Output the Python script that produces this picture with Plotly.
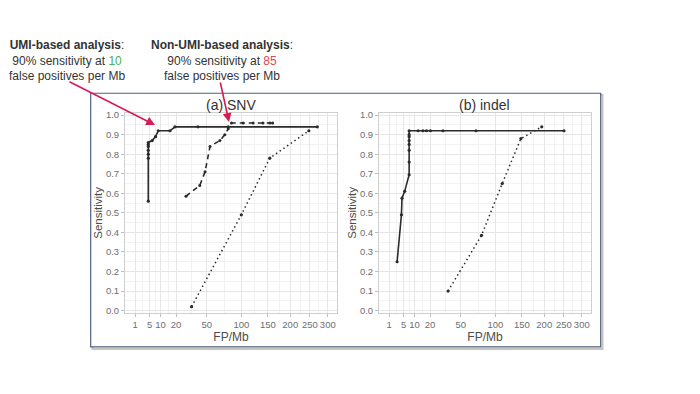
import numpy as np
import plotly.graph_objects as go

# ---------------- data ----------------
tick_vals = [1, 5, 10, 20, 50, 100, 150, 200, 250, 300]
tick_text = [str(v) for v in tick_vals]

snv_umi_fp = [4.5, 4.5, 4.5, 4.5, 4.5, 4.5, 4.5, 6.0, 7.5, 8.8, 15.7, 19.2, 40, 79, 270]
snv_umi_sens = [0.56, 0.78, 0.80, 0.82, 0.84, 0.85, 0.86, 0.87, 0.89, 0.92, 0.92, 0.94, 0.94, 0.94, 0.94]

snv_nonumi_fp = [28.2, 42, 48, 54, 67, 74, 79, 84, 103, 121, 140, 154, 160]
snv_nonumi_sens = [0.585, 0.64, 0.71, 0.84, 0.87, 0.90, 0.93, 0.96, 0.96, 0.96, 0.96, 0.96, 0.96]

snv_raw_fp = [33.5, 100, 154, 247]
snv_raw_sens = [0.02, 0.49, 0.78, 0.92]

indel_umi_fp = [2.83, 4.2, 4.4, 5.4, 7.3, 7.3, 7.3, 7.3, 7.3, 7.3, 7.3, 7.3, 12, 15, 17.4, 20.3, 31, 70, 250]
indel_umi_sens = [0.25, 0.49, 0.575, 0.61, 0.695, 0.76, 0.82, 0.85, 0.87, 0.89, 0.90, 0.92, 0.92, 0.92, 0.92, 0.92, 0.92, 0.92, 0.92]

indel_raw_fp = [36, 78, 112, 148, 194]
indel_raw_sens = [0.10, 0.385, 0.65, 0.88, 0.94]

# ---------------- figure ----------------
W, H = 700, 394
OFF = 8  # default page body margin
FONT = "Arial, Liberation Sans, sans-serif"
LINE = "#2b2b2b"

def px(x):
    return (x - OFF) / W

def py(y):
    return 1 - (y - OFF) / H

fig = go.Figure()

def add(fp, sens, dash, axis, width=1.6, msize=3.2):
    fig.add_trace(go.Scatter(
        x=np.sqrt(fp), y=sens, mode="lines+markers",
        line=dict(color=LINE, width=width, dash=dash),
        marker=dict(size=msize, color=LINE),
        xaxis="x" + axis, yaxis="y" + axis, showlegend=False,
        hoverinfo="skip"))

add(snv_umi_fp, snv_umi_sens, "solid", "")
add(snv_nonumi_fp, snv_nonumi_sens, "5px,4px", "", 1.6, 3.0)
add(snv_raw_fp, snv_raw_sens, "1.5px,3px", "", 1.5)
add(indel_umi_fp, indel_umi_sens, "solid", "2")
add(indel_raw_fp, indel_raw_sens, "1.5px,3px", "2", 1.5)

sq_ticks = np.sqrt(tick_vals)
minor_x = list((sq_ticks[:-1] + sq_ticks[1:]) / 2)

xcommon = dict(
    range=[0.15, 18.1], tickvals=list(sq_ticks), ticktext=tick_text,
    tickangle=0,
    showgrid=True, gridcolor="#e6e6e6", gridwidth=1,
    minor=dict(tickvals=minor_x, showgrid=True, gridcolor="#f2f2f2", gridwidth=0.6),
    showline=True, linecolor="#cfcfcf", linewidth=1, mirror=True,
    ticks="outside", ticklen=3, tickcolor="#bdbdbd",
    tickfont=dict(size=9.5, color="#6e6e6e", family=FONT),
    zeroline=False, fixedrange=True,
    title=dict(text="FP/Mb", font=dict(size=12, color="#4d4d4d", family=FONT), standoff=0),
)
ycommon = dict(
    range=[-0.01, 1.01], tickvals=[i / 10 for i in range(11)],
    ticktext=["%.1f" % (i / 10) for i in range(11)],
    showgrid=True, gridcolor="#e6e6e6", gridwidth=1,
    minor=dict(tickvals=[i / 10 + 0.05 for i in range(10)], showgrid=True, gridcolor="#f2f2f2", gridwidth=0.6),
    showline=True, linecolor="#cfcfcf", linewidth=1, mirror=True,
    ticks="outside", ticklen=3, tickcolor="#bdbdbd",
    tickfont=dict(size=9.5, color="#6e6e6e", family=FONT),
    zeroline=False, fixedrange=True,
    title=dict(text="Sensitivity", font=dict(size=11.5, color="#4d4d4d", family=FONT), standoff=0),
)

ydom = [py(314), py(111)]
fig.update_layout(
    width=W, height=H, margin=dict(l=0, r=0, t=0, b=0),
    paper_bgcolor="white", plot_bgcolor="white",
    font=dict(family=FONT),
    xaxis=dict(domain=[px(125), px(337)], anchor="y", **xcommon),
    yaxis=dict(domain=ydom, anchor="x", **ycommon),
    xaxis2=dict(domain=[px(379), px(591)], anchor="y2", **xcommon),
    yaxis2=dict(domain=ydom, anchor="x2", **ycommon),
)

# slide-like frame with shadow
fig.add_shape(type="rect", xref="paper", yref="paper",
              x0=px(92.5), y0=py(351), x1=px(602.5), y1=py(92.5),
              line=dict(color="#c4c4c4", width=2), layer="below")
fig.add_shape(type="rect", xref="paper", yref="paper",
              x0=px(90.7), y0=py(349), x1=px(600.7), y1=py(90.7),
              line=dict(color="#4f5f7f", width=1.2), fillcolor="white", layer="below")

# panel titles
for cx, txt in [(231, "(a) SNV"), (485, "(b) indel")]:
    fig.add_annotation(x=px(cx), y=py(103), xref="paper", yref="paper",
                       xanchor="center", yanchor="middle",
                       text=txt, showarrow=False,
                       font=dict(size=14, color="#333333", family=FONT))

# callout texts
fig.add_annotation(x=px(67), y=py(57), xref="paper", yref="paper", showarrow=False,
                   align="center", xanchor="center", yanchor="middle",
                   text="<b>UMI-based analysis</b>:<br>90% sensitivity at <span style='color:#4caf50'>10</span><br>false positives per Mb",
                   font=dict(size=12, color="#333333", family=FONT))
fig.add_annotation(x=px(222), y=py(57), xref="paper", yref="paper", showarrow=False,
                   align="center", xanchor="center", yanchor="middle",
                   text="<b>Non-UMI-based analysis</b>:<br>90% sensitivity at <span style='color:#e0464b'>85</span><br>false positives per Mb",
                   font=dict(size=12, color="#333333", family=FONT))

# arrows
for (hx, hy, tx, ty) in [(155, 123, 68, 79), (229, 120, 220, 79)]:
    fig.add_annotation(x=px(hx), y=py(hy), xref="paper", yref="paper",
                       ax=tx - hx, ay=ty - hy, axref="pixel", ayref="pixel",
                       text="", showarrow=True, arrowhead=2, arrowsize=1.1,
                       arrowwidth=1.6, arrowcolor="#d81b55")

fig.write_html("out.html")
